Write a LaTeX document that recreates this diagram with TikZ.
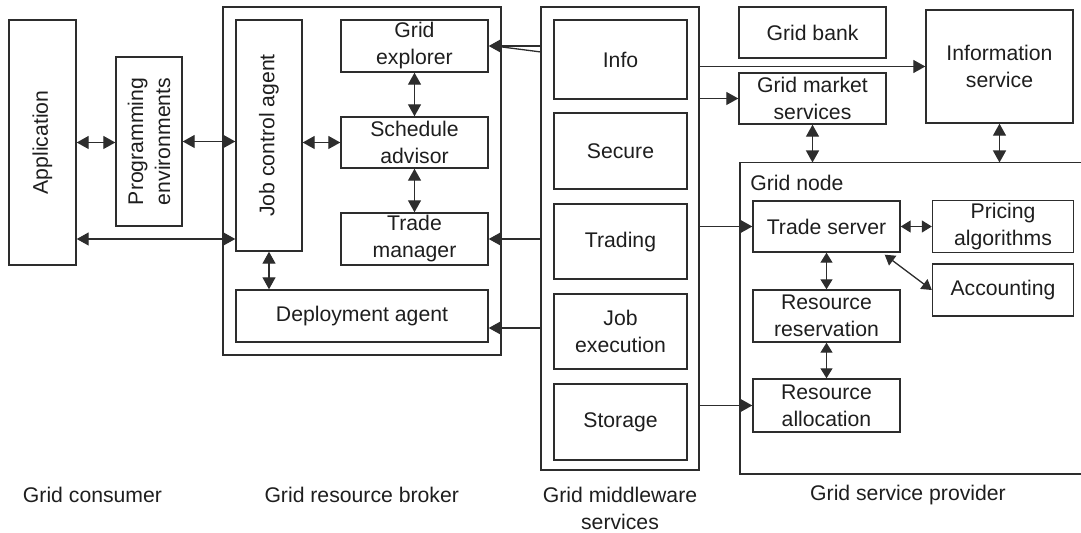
\documentclass[tikz,border=0pt]{standalone}
\usepackage{fontspec}
\setmainfont{Liberation Sans}
\usetikzlibrary{arrows.meta,calc}
\definecolor{lc}{RGB}{45,45,45}
\definecolor{tc}{RGB}{30,30,30}
\begin{document}
\begin{tikzpicture}[x=0.5pt,y=-0.5pt,
 font=\fontsize{10.6}{13.5}\selectfont,
 box/.style={draw=lc, line width=0.7pt, inner sep=0pt, align=center, text=tc},
 lbl/.style={inner sep=0pt, align=center, text=tc},
 con/.style={draw=lc, line width=0.65pt},
 arr/.style={con, -{Triangle[length=6pt,width=6.5pt]}},
 darr/.style={con, {Triangle[length=6pt,width=6.5pt]}-{Triangle[length=6pt,width=6.5pt]}},
 sdarr/.style={con, {Triangle[length=5pt,width=6pt]}-{Triangle[length=5pt,width=6pt]}}]
\useasboundingbox (0,0) rectangle (1081,533);

% outer frames
\node[box, minimum width=139pt, minimum height=174pt] (broker) at (361.8,181) {};
\node[box, minimum width=79pt, minimum height=231.5pt] (mw) at (620,238.5) {};
\coordinate (gnTR) at (1081,162.5);
\coordinate (gnTL) at (740,162.5);
\coordinate (gnBL) at (740,474);
\coordinate (gnBR) at (1081,474);
\draw[con, line width=0.7pt] (gnTR) -- (gnTL) -- (gnBL) -- (gnBR);
\node[lbl, anchor=west] (gnT) at (750,183) {Grid node};

% consumer
\node[box, minimum width=33.5pt, minimum height=122.5pt] (app) at (42.5,142.5) {};
\node[lbl, rotate=90] (appT) at (app.center) {Application};
\node[box, minimum width=33pt, minimum height=84.5pt] (prog) at (149,141.5) {};
\node[lbl, rotate=90] (progT) at (prog.center) {Programming\\environments};

% broker
\node[box, minimum width=33pt, minimum height=115.5pt] (jca) at (269,135.5) {};
\node[lbl, rotate=90] (jcaT) at (jca.center) {Job control agent};
\node[box, minimum width=73.5pt, minimum height=26pt] (explorer) at (414.5,46) {Grid\\explorer};
\node[box, minimum width=73.5pt, minimum height=25.5pt] (sched) at (414.5,142.5) {Schedule\\advisor};
\node[box, minimum width=73.5pt, minimum height=26pt] (trademgr) at (414.5,239) {Trade\\manager};
\node[box, minimum width=126pt, minimum height=26pt] (deploy) at (362,316) {Deployment agent};

% middleware
\node[box, minimum width=66.5pt, minimum height=39.5pt] (info) at (620.5,59.5) {Info};
\node[box, minimum width=66.5pt, minimum height=38pt] (secure) at (620.5,151) {Secure};
\node[box, minimum width=66.5pt, minimum height=37.5pt] (trading) at (620.5,241.7) {Trading};
\node[box, minimum width=66.5pt, minimum height=37.5pt] (jobexec) at (620.5,331.7) {Job\\execution};
\node[box, minimum width=66.5pt, minimum height=38pt] (storage) at (620.5,422) {Storage};

% provider
\node[box, minimum width=73.5pt, minimum height=25.5pt] (gridbank) at (812.5,32.5) {Grid bank};
\node[box, minimum width=73.5pt, minimum height=25.5pt] (gms) at (812.5,98.5) {Grid market\\services};
\node[box, minimum width=73.5pt, minimum height=56.5pt] (infoserv) at (999.5,66.5) {Information\\service};
\node[box, minimum width=73.5pt, minimum height=25.5pt] (tradeserver) at (826.5,226.5) {Trade server};
\node[box, minimum width=70.5pt, minimum height=26pt] (pricing) at (1003,226.7) {Pricing\\algorithms};
\node[box, minimum width=70.5pt, minimum height=26pt] (accounting) at (1003,290) {Accounting};
\node[box, minimum width=73.5pt, minimum height=26pt] (resres) at (826.5,316) {Resource\\reservation};
\node[box, minimum width=73.5pt, minimum height=26.5pt] (resalloc) at (826.5,405.5) {Resource\\allocation};

% captions
\node[lbl] (capC) at (92.5,495) {Grid consumer};
\node[lbl] (capB) at (361.7,495) {Grid resource broker};
\node[lbl] (capM) at (620,508.5) {Grid middleware\\services};
\node[lbl] (capP) at (908,495) {Grid service provider};

% connectors
\draw[darr] (app.east) -- (app.east -| prog.west);
\draw[darr] (prog.east) -- (prog.east -| jca.west);
\draw[darr] (sched.west -| jca.east) -- (sched.west);
\draw[darr] (app.east |- trademgr.west) -- (jca.west |- trademgr.west);
\draw[darr] (explorer.south) -- (sched.north);
\draw[darr] (sched.south) -- (trademgr.north);
\draw[darr] (jca.south) -- (jca.south |- deploy.north);

\coordinate (mwA) at (541,52);
\coordinate (exB) at (502,47);
\coordinate (dpY) at (0,328);
\draw[arr] (mw.west |- explorer.east) -- (explorer.east);
\draw[con] (mwA) -- (exB);
\draw[arr] (mw.west |- trademgr.east) -- (trademgr.east);
\draw[arr] (mw.west |- dpY) -- (deploy.east |- dpY);

\draw[arr] (mw.east |- infoserv.west) -- (infoserv.west);
\draw[arr] (mw.east |- gms.west) -- (gms.west);
\draw[arr] (mw.east |- tradeserver.west) -- (tradeserver.west);
\draw[arr] (mw.east |- resalloc.west) -- (resalloc.west);

\draw[darr] (gms.south) -- (gms.south |- gnTL);
\draw[darr] (infoserv.south) -- (infoserv.south |- gnTL);

\draw[sdarr] (tradeserver.east) -- (tradeserver.east -| pricing.west);
\draw[sdarr] ($(tradeserver.south east)+(-16,2)$) -- (accounting.west);
\draw[sdarr] (tradeserver.south) -- (resres.north);
\draw[sdarr] (resres.south) -- (resalloc.north);
\end{tikzpicture}
\end{document}
